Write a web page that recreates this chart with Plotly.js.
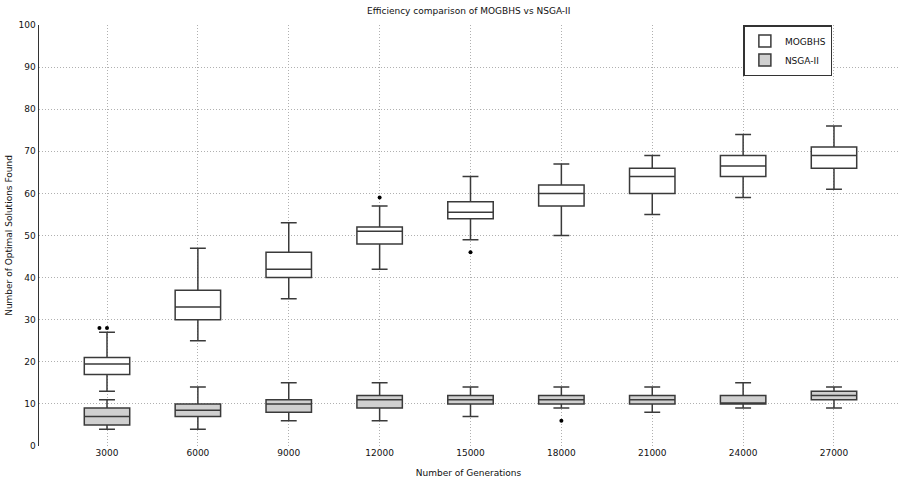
<!DOCTYPE html>
<html><head><meta charset="utf-8">
<script src="https://cdn.plot.ly/plotly-3.0.1.min.js"></script>
<style>html,body{margin:0;padding:0;background:#fff}#chart{width:898px;height:482px}</style>
</head><body><div id="chart"></div>
<script>
const generations = [3000, 6000, 9000, 12000, 15000, 18000, 21000, 24000, 27000];
const tickLabels = ['3000','6000','9000','12000','15000','18000','21000','24000','27000'];

// MOGBHS
const mogLow    = [13, 25, 35, 42, 49, 50, 55, 59, 61];
const mogQ1     = [17, 30, 40, 48, 54, 57, 60, 64, 66];
const mogMedian = [19.5, 33, 42, 51, 55.5, 60, 64, 66.5, 69];
const mogQ3     = [21, 37, 46, 52, 58, 62, 66, 69, 71];
const mogHigh   = [27, 47, 53, 57, 64, 67, 69, 74, 76];
const mogOutX   = [2750, 3000, 12000, 15000];
const mogOutY   = [28, 28, 59, 46];

// NSGA-II
const nsgaLow    = [4, 4, 6, 6, 7, 9, 8, 9, 9];
const nsgaQ1     = [5, 7, 8, 9, 10, 10, 10, 10, 11];
const nsgaMedian = [7, 8.5, 10, 11, 11, 11, 11, 10, 12];
const nsgaQ3     = [9, 10, 11, 12, 12, 12, 12, 12, 13];
const nsgaHigh   = [11, 14, 15, 15, 14, 14, 14, 15, 14];
const nsgaOutX   = [18000];
const nsgaOutY   = [6];

const lineCol = '#3a3a3a';
const common = {type:'box', boxpoints:false, width:1500, whiskerwidth:0.35, line:{color:lineCol, width:1.5}};

const traces = [
  Object.assign({}, common, {name:'MOGBHS', x:generations, q1:mogQ1, median:mogMedian, q3:mogQ3,
    lowerfence:mogLow, upperfence:mogHigh, fillcolor:'#ffffff'}),
  Object.assign({}, common, {name:'NSGA-II', x:generations, q1:nsgaQ1, median:nsgaMedian, q3:nsgaQ3,
    lowerfence:nsgaLow, upperfence:nsgaHigh, fillcolor:'#d0d0d0'}),
  {type:'scatter', mode:'markers', x:mogOutX, y:mogOutY, showlegend:false, hoverinfo:'skip',
    marker:{color:'#000', size:4}},
  {type:'scatter', mode:'markers', x:nsgaOutX, y:nsgaOutY, showlegend:false, hoverinfo:'skip',
    marker:{color:'#000', size:4}}
];

const font = {family:'DejaVu Sans, Verdana, sans-serif', size:9, color:'#111'};
const gridDash = '1px,2px';
const layout = {
  width:898, height:482,
  margin:{l:39, r:0, t:25, b:36},
  paper_bgcolor:'#fff', plot_bgcolor:'#fff',
  font:font,
  boxmode:'overlay',
  title:{text:'Efficiency comparison of MOGBHS vs NSGA-II', font:{family:font.family, size:9, color:'#111'},
    x:0.522, xanchor:'center', y:0.985, yanchor:'top'},
  xaxis:{range:[755, 29113], tickvals:generations, ticktext:tickLabels, showgrid:true,
    gridcolor:'#b0b0b0', griddash:gridDash, gridwidth:1, zeroline:false, showline:false,
    ticks:'', tickfont:{size:9}, title:{text:'Number of Generations', font:{size:9}, standoff:12}},
  yaxis:{range:[0, 100], dtick:10, showgrid:true, gridcolor:'#b0b0b0', griddash:gridDash, gridwidth:1,
    zeroline:false, showline:true, linecolor:'#333', linewidth:1.5, ticks:'', tickfont:{size:9},
    title:{text:'Number of Optimal Solutions Found', font:{size:9}, standoff:4}},
  legend:{x:0.82, y:1, xanchor:'left', yanchor:'top', bgcolor:'#fff', bordercolor:'#333', borderwidth:1.5,
    font:{size:9}, tracegroupgap:2, itemwidth:30},
  showlegend:true
};
Plotly.newPlot('chart', traces, layout, {staticPlot:true, displayModeBar:false});
</script></body></html>
